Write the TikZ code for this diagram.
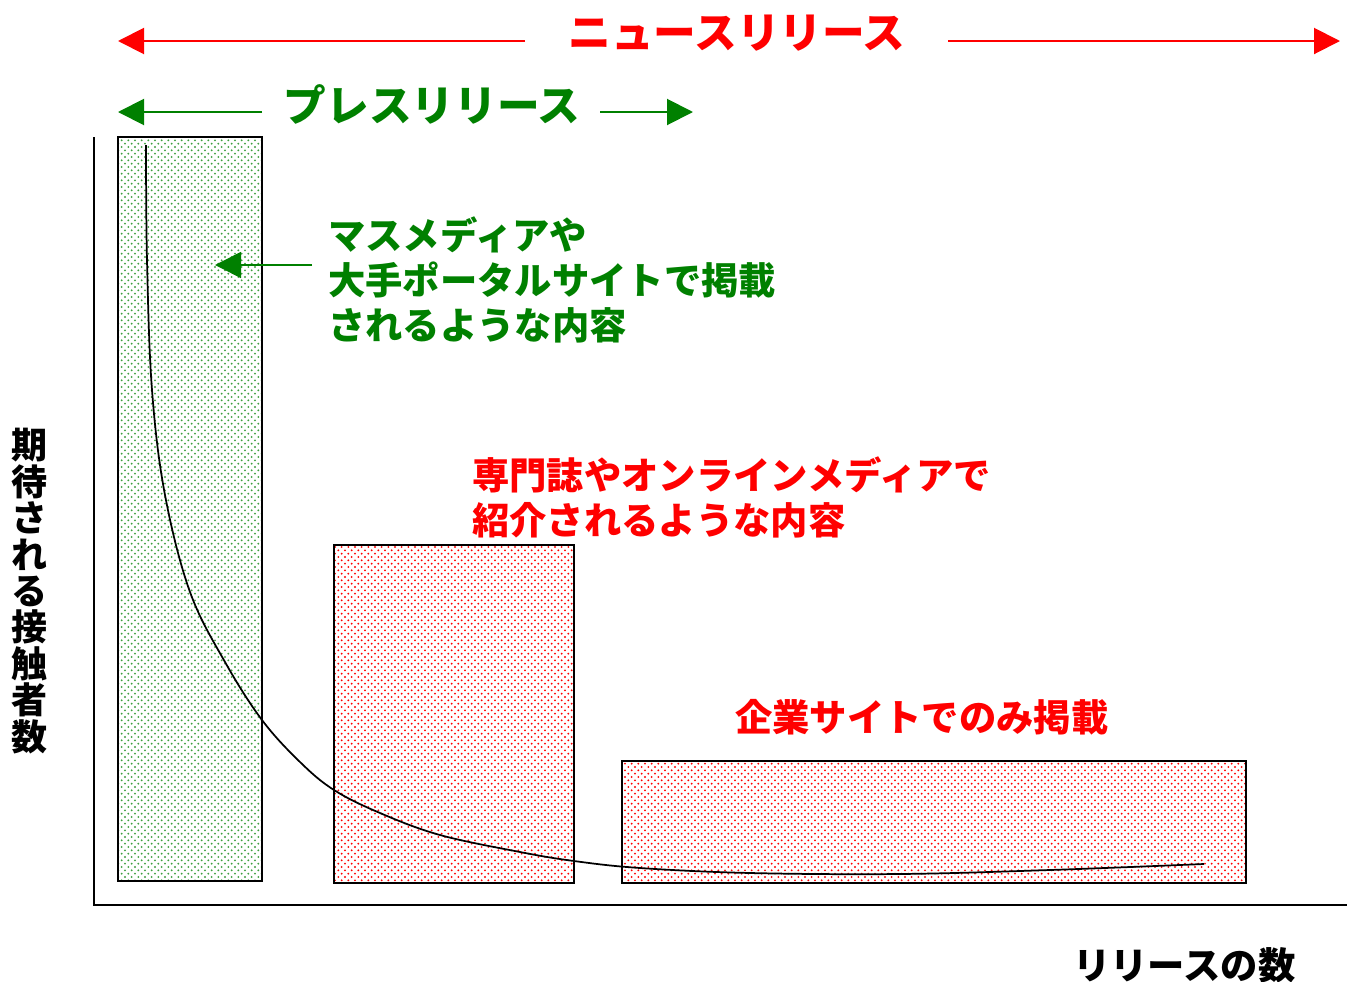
\documentclass[tikz,border=0pt]{standalone}
\usepackage{fontspec}
\newfontfamily\jp{Noto Sans CJK JP}
\usetikzlibrary{patterns.meta,arrows.meta}

\definecolor{newsred}{RGB}{255,0,0}
\definecolor{pressgreen}{RGB}{0,128,0}

\tikzdeclarepattern{
  name=screendots,
  type=uncolored,
  bottom left={(-.1pt,-.1pt)},
  top right={(5.1pt,5.1pt)},
  tile size={(5pt,5pt)},
  code={
    \fill (1.25pt,1.25pt) circle (0.8pt);
    \fill (3.75pt,3.75pt) circle (0.8pt);
  }
}

\tikzset{
  bigtxt/.style={font=\jp\bfseries\fontsize{32}{36}\selectfont, inner sep=0pt},
  txt/.style={font=\jp\bfseries\fontsize{28}{33.75}\selectfont, inner sep=0pt, anchor=west, align=left},
  span/.style={line width=1.5pt, -{Triangle[length=19.5pt,width=19.5pt]}},
  bar/.style={draw=black, line width=1.5pt},
}

\begin{document}
\begin{tikzpicture}[x=0.75pt, y=-0.75pt]
\useasboundingbox (0,0) rectangle (1347,982);

% bars
\draw[bar, pattern=screendots, pattern color=pressgreen!75] (118,137) rectangle (262,881);
\draw[bar, pattern=screendots, pattern color=newsred] (334,545) rectangle (574,883);
\draw[bar, pattern=screendots, pattern color=newsred] (622,761) rectangle (1246,883);

% axes
\coordinate (top) at (94,137);
\coordinate (origin) at (94,905);
\coordinate (right) at (1347,905);
\draw[line width=1.2pt] (top) -- (origin) -- (right);

% curve
\draw[line width=1.3pt] plot[smooth, tension=0.6] coordinates {(146,145) (147,260) (152,390) (165,495) (190,592) (225,662) (262,720) (300,762) (334,790) (380,813) (440,835) (520,852) (574,861) (640,868) (750,873) (900,874) (1050,870) (1204,864)};

% news release span
\node (news) [bigtxt, text=newsred] at (737,33) {ニュースリリース};
\coordinate (newsL0) at (525,41);
\coordinate (newsL1) at (118,41);
\coordinate (newsR0) at (948,41);
\coordinate (newsR1) at (1340,41);
\draw[span, newsred] (newsL0) -- (newsL1);
\draw[span, newsred] (newsR0) -- (newsR1);

% press release span
\node (press) [bigtxt, text=pressgreen] at (432,104) {プレスリリース};
\coordinate (pressL0) at (262,112);
\coordinate (pressL1) at (118,112);
\coordinate (pressR0) at (600,112);
\coordinate (pressR1) at (693,112);
\draw[span, pressgreen] (pressL0) -- (pressL1);
\draw[span, pressgreen] (pressR0) -- (pressR1);

% labels
\node (mass) [txt, text=pressgreen, anchor=north west] at (328,216) {マスメディアや\\大手ポータルサイトで掲載\\されるような内容};
\coordinate (massTip) at (215,265);
\coordinate (massTail) at (312,265);
\draw[span, pressgreen, line width=1.2pt] (massTail) -- (massTip);

\node (trade) [txt, text=newsred, anchor=north west] at (472,456) {専門誌やオンラインメディアで\\紹介されるような内容};
\node (corp) [txt, text=newsred] at (735,717) {企業サイトでのみ掲載};

% axis titles
\node (ylab) [font=\jp\bfseries\fontsize{27}{27.3}\selectfont, inner sep=0pt, align=center] at (30,591) {期\\待\\さ\\れ\\る\\接\\触\\者\\数};
\node (xlab) [txt] at (1073,965) {リリースの数};
\end{tikzpicture}
\end{document}
